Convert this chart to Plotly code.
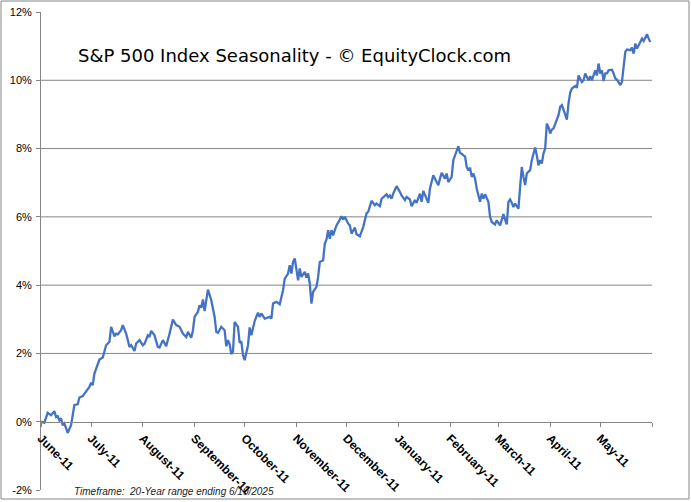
import pandas as pd
import plotly.graph_objects as go

# ---- data ----
# calendar days after June 11 of the seasonal year, and the seasonal return (%)
DAYS = [0, 2, 4, 6, 8, 9, 10, 11, 12, 13, 14, 16, 18, 19, 20, 22, 23, 25, 27, 29,
        30, 31, 32, 34, 35, 37, 38, 39, 41, 42, 44, 45, 46, 48, 49, 51, 52, 53, 54, 56,
        57, 59, 61, 62, 64, 65, 66, 68, 70, 71, 73, 75, 77, 79, 81, 83, 85, 87, 88, 90,
        91, 92, 94, 95, 96, 97, 98, 100, 102, 104, 105, 106, 108, 110, 111, 112, 113, 114, 115, 116,
        118, 119, 120, 121, 122, 124, 125, 126, 128, 130, 131, 132, 134, 137, 138, 139, 141, 143, 145, 146,
        148, 149, 150, 151, 152, 154, 155, 156, 158, 159, 160, 161, 162, 163, 165, 166, 167, 169, 170, 171,
        172, 173, 174, 175, 176, 177, 179, 180, 181, 182, 184, 185, 186, 188, 189, 190, 191, 193, 195, 196,
        198, 200, 201, 203, 204, 207, 208, 209, 210, 211, 213, 215, 216, 218, 219, 221, 222, 224, 225, 227,
        228, 229, 230, 232, 233, 235, 237, 238, 239, 240, 242, 243, 244, 246, 247, 248, 250, 251, 252, 253,
        254, 255, 256, 257, 258, 259, 260, 261, 262, 263, 264, 265, 266, 268, 269, 270, 272, 273, 275, 276,
        277, 278, 279, 280, 281, 282, 283, 284, 286, 287, 288, 289, 290, 291, 293, 294, 296, 297, 298, 299,
        300, 301, 302, 303, 304, 305, 306, 307, 308, 310, 311, 312, 314, 315, 316, 317, 318, 320, 321, 322,
        324, 325, 326, 328, 329, 330, 332, 333, 334, 335, 336, 337, 338, 339, 340, 342, 343, 344, 345, 347,
        348, 349, 350, 351, 353, 354, 355, 356, 357, 359, 360, 361, 363, 364, 365]

RETURNS = [0.00, -0.03, 0.26, 0.19, 0.31, 0.14, 0.16, 0.04, 0.10, -0.10, -0.05, -0.33, -0.10, 0.19, 0.49, 0.51, 0.71, 0.75, 0.87, 1.02,
           1.14, 1.07, 1.41, 1.70, 1.82, 1.88, 2.04, 2.24, 2.34, 2.78, 2.50, 2.58, 2.56, 2.68, 2.83, 2.58, 2.39, 2.19, 2.24, 2.07,
           2.29, 2.39, 2.24, 2.28, 2.53, 2.48, 2.66, 2.53, 2.19, 2.17, 2.39, 2.21, 2.58, 2.99, 2.83, 2.78, 2.58, 2.48, 2.63, 2.46,
           2.68, 3.07, 3.22, 3.41, 3.34, 3.58, 3.24, 3.87, 3.56, 3.07, 2.63, 2.60, 2.78, 2.68, 2.21, 2.39, 2.27, 1.98, 2.05, 2.92,
           2.78, 2.31, 2.35, 1.95, 1.80, 2.24, 2.76, 2.53, 2.95, 3.19, 3.07, 3.17, 3.02, 3.07, 3.02, 3.46, 3.51, 3.44, 3.85, 4.19,
           4.34, 4.58, 4.34, 4.68, 4.78, 4.14, 4.49, 4.24, 4.39, 4.22, 4.34, 4.05, 3.46, 3.80, 3.95, 4.24, 4.68, 4.73, 5.22, 5.33,
           5.61, 5.36, 5.61, 5.46, 5.61, 5.75, 5.92, 6.02, 5.92, 6.00, 5.80, 5.75, 5.51, 5.69, 5.49, 5.46, 5.43, 5.70, 6.10, 6.15,
           6.47, 6.34, 6.39, 6.31, 6.53, 6.66, 6.58, 6.63, 6.53, 6.68, 6.90, 6.73, 6.63, 6.49, 6.58, 6.51, 6.31, 6.49, 6.41, 6.68,
           6.44, 6.76, 6.63, 6.41, 6.83, 7.22, 7.02, 6.93, 7.12, 7.29, 7.12, 7.27, 7.02, 7.17, 7.66, 7.80, 8.07, 7.87, 7.85, 7.80,
           7.77, 7.46, 7.36, 7.44, 7.17, 7.27, 7.12, 6.83, 6.63, 6.44, 6.68, 6.53, 6.66, 6.44, 6.00, 5.85, 5.78, 5.90, 5.75, 5.95,
           6.08, 5.92, 5.78, 6.44, 6.51, 6.41, 6.29, 6.39, 6.24, 6.88, 7.46, 7.17, 6.93, 7.27, 7.37, 7.66, 8.03, 7.80, 7.51, 7.66,
           7.56, 7.86, 8.00, 8.73, 8.63, 8.44, 8.56, 8.59, 8.73, 8.98, 9.22, 9.27, 9.00, 8.85, 9.32, 9.64, 9.76, 9.83, 9.78, 10.14,
           9.95, 10.00, 10.20, 10.00, 10.12, 10.00, 10.29, 10.14, 10.49, 10.20, 10.29, 9.98, 10.20, 10.20, 10.29, 10.31, 10.20, 10.05, 10.02, 9.86,
           9.95, 10.39, 10.83, 10.90, 10.88, 10.96, 10.78, 11.07, 10.93, 11.12, 11.22, 11.15, 11.35, 11.22, 11.12]

MONTH_LABELS = ["June-11", "July-11", "August-11", "September-11", "October-11",
                "November-11", "December-11", "January-11", "February-11",
                "March-11", "April-11", "May-11"]

Y_TICKS = [-2, 0, 2, 4, 6, 8, 10, 12]
Y_LABELS = ["-2%", "0%", "2%", "4%", "6%", "8%", "10%", "12%"]

TITLE = "S&P 500 Index Seasonality - \u00a9 EquityClock.com"
FOOTER = "Timeframe:\u00a0 20-Year range ending 6/10/2025"

# ---- build ----
START = pd.Timestamp("2023-06-11")
dates = START + pd.to_timedelta(DAYS, unit="D")
tick_dates = [START + pd.DateOffset(months=k) for k in range(len(MONTH_LABELS) + 1)]

GRAY = "#868686"
BLUE = "#4472C4"
W, H = 691, 502
ML, MR, MT, MB = 41, 39, 12, 12
pw, ph = W - ML - MR, H - MT - MB

def px_x(p):
    return (p - ML) / pw

def px_y(p):
    return (H - MB - p) / ph

fig = go.Figure()
fig.add_trace(go.Scatter(x=dates, y=RETURNS, mode="lines",
                         line=dict(color=BLUE, width=2.3), hoverinfo="skip",
                         showlegend=False))

shapes = []
for v in Y_TICKS:
    if Y_TICKS[0] < v < Y_TICKS[-1] and v != 0:
        shapes.append(dict(type="line", xref="paper", yref="y", x0=0, x1=1, y0=v, y1=v,
                           line=dict(color=GRAY, width=1), layer="below"))
# outer chart border
shapes.append(dict(type="rect", xref="paper", yref="paper",
                   x0=px_x(1), x1=px_x(689), y0=px_y(499), y1=px_y(1),
                   line=dict(color=GRAY, width=1)))

fig.update_layout(
    width=W, height=H,
    margin=dict(l=ML, r=MR, t=MT, b=MB, pad=0, autoexpand=False),
    paper_bgcolor="white", plot_bgcolor="white",
    shapes=shapes,
    xaxis=dict(type="date", range=[tick_dates[0], tick_dates[-1]],
               tickvals=tick_dates, ticktext=MONTH_LABELS + [""],
               tickangle=45, ticks="outside", ticklen=4, tickcolor=GRAY,
               showline=True, linecolor=GRAY, linewidth=1, showgrid=False,
               zeroline=False, anchor="free", automargin=False,
               position=(0 - Y_TICKS[0]) / (Y_TICKS[-1] - Y_TICKS[0]),
               tickfont=dict(family="Liberation Sans, Arial", size=12,
                             color="black", weight="bold")),
    yaxis=dict(range=[Y_TICKS[0], Y_TICKS[-1]], tickvals=Y_TICKS, ticktext=Y_LABELS,
               ticks="outside", ticklen=4, tickcolor=GRAY, ticklabelstandoff=2,
               showline=True, linecolor=GRAY, linewidth=1, showgrid=False,
               zeroline=False, automargin=False,
               tickfont=dict(family="Liberation Sans, Arial", size=11, color="black")),
    annotations=[
        dict(text=TITLE, xref="paper", yref="paper", x=px_x(294), y=px_y(55),
             xanchor="center", yanchor="middle", showarrow=False,
             font=dict(family="DejaVu Sans", size=18, color="black")),
        dict(text=FOOTER, xref="paper", yref="paper", x=px_x(72), y=px_y(491),
             xanchor="left", yanchor="middle", showarrow=False,
             font=dict(family="Liberation Sans, Arial", size=10, color="#222222",
                       style="italic")),
    ],
)

fig.write_html("out.html")
